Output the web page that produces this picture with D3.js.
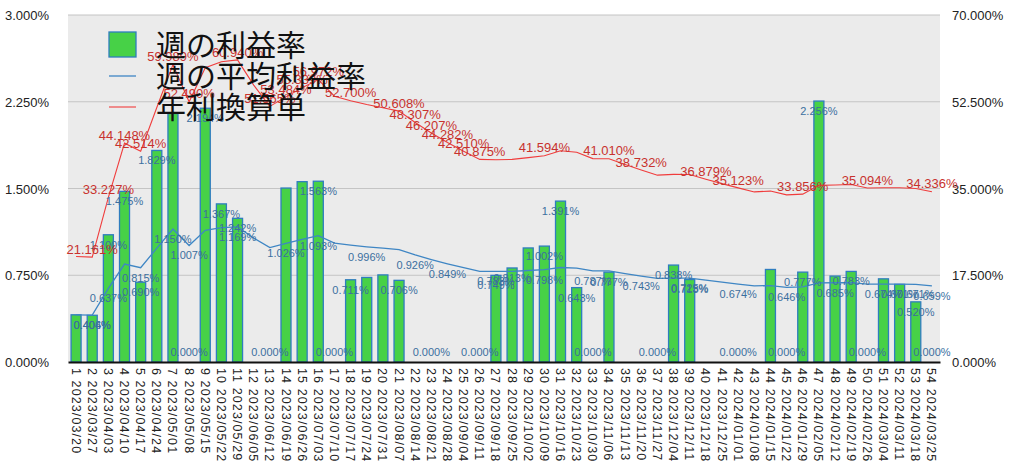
<!DOCTYPE html>
<html><head><meta charset="utf-8">
<script src="https://cdn.jsdelivr.net/npm/d3@7"></script>
<style>
html,body{margin:0;padding:0;background:#fff;}
svg{display:block;}
</style>
</head><body>
<svg id="chart" width="1024" height="474"></svg>
<script>
// ---- data ----
const weekNumbers = d3.range(1, 55);
const weekDates = ["2023/03/20","2023/03/27","2023/04/03","2023/04/10","2023/04/17","2023/04/24","2023/05/01","2023/05/08","2023/05/15","2023/05/22","2023/05/29","2023/06/05","2023/06/12","2023/06/19","2023/06/26","2023/07/03","2023/07/10","2023/07/17","2023/07/24","2023/07/31","2023/08/07","2023/08/14","2023/08/21","2023/08/28","2023/09/04","2023/09/11","2023/09/18","2023/09/25","2023/10/02","2023/10/09","2023/10/16","2023/10/23","2023/10/30","2023/11/06","2023/11/13","2023/11/20","2023/11/27","2023/12/04","2023/12/11","2023/12/18","2023/12/25","2024/01/01","2024/01/08","2024/01/15","2024/01/22","2024/01/29","2024/02/05","2024/02/12","2024/02/19","2024/02/26","2024/03/04","2024/03/11","2024/03/18","2024/03/25"];
// 週の利益率 (%)
const weeklyRate = [0.408,0.404,1.100,1.475,0.690,1.829,2.148,0,2.194,1.367,1.242,0,0,1.504,1.559,1.563,0,0.711,0.731,0.753,0.706,0,0,0,0,0,0.749,0.813,0.986,1.002,1.391,0.643,0,0.777,0,0,0,0.838,0.713,0,0,0,0,0.800,0,0.777,2.256,0.743,0.783,0,0.719,0.671,0.520,0];
// 週の平均利益率 (%)
const avgRate = [0.408,0.406,0.637,0.847,0.815,0.984,1.150,1.007,1.139,1.162,1.169,1.071,0.989,1.026,1.061,1.093,1.028,1.011,0.996,0.984,0.971,0.926,0.886,0.849,0.815,0.784,0.783,0.784,0.791,0.798,0.817,0.812,0.787,0.787,0.764,0.743,0.723,0.726,0.725,0.707,0.690,0.674,0.658,0.661,0.646,0.649,0.684,0.685,0.687,0.673,0.674,0.674,0.671,0.659];
// 年利換算単 (%)
const annualRate = [21.27,21.161,33.227,44.148,42.514,51.33,59.989,52.490,59.37,60.56,60.940,55.86,51.565,53.484,55.339,56.972,53.62,52.700,51.94,51.30,50.608,48.307,46.207,44.282,42.510,40.875,40.81,40.87,41.23,41.594,42.60,42.31,41.03,41.010,39.84,38.732,37.69,37.85,37.83,36.879,35.98,35.123,34.31,34.48,33.71,33.856,35.64,35.71,35.81,35.094,35.14,35.14,34.99,34.336];
const leftTicks = [0, 0.75, 1.5, 2.25, 3.0];
const rightTicks = [0, 17.5, 35, 52.5, 70];
const seriesNames = ["週の利益率", "週の平均利益率", "年利換算単"];
// weeks whose value labels are visible
const barLabelWeeks = [2,3,4,5,6,8,9,10,11,13,16,17,18,21,23,26,27,28,30,31,32,33,34,37,38,39,42,45,46,47,49,50,52,53,54];
const avgLabelWeeks = [2,3,5,7,8,11,14,16,19,22,24,27,30,33,36,39,42,45,48,51,53,54];
const annualLabelWeeks = [2,3,4,5,7,8,11,13,14,15,16,18,21,22,23,24,25,26,30,34,36,40,42,46,50,54];

// ---- layout ----
const L = 68, R = 940, T = 15, B = 362;
const svg = d3.select("#chart");
const x = d3.scaleBand().domain(weekNumbers).range([L, R]).paddingInner(0.38).paddingOuter(0.19);
const yL = d3.scaleLinear().domain([0, 3]).range([B, T]);
const yR = d3.scaleLinear().domain([0, 70]).range([B, T]);
const cx = i => x(weekNumbers[i]) + x.bandwidth() / 2;

const FONT = "'Liberation Sans', Arial, Helvetica, sans-serif";
const GREEN = "#47d147", BARSTROKE = "#2f7dbf", BLUE = "#3f86c4", LBLUE = "#3b6f9f", RED = "#f03c3c", LRED = "#c8322e";

svg.append("rect").attr("x", L).attr("y", T).attr("width", R - L).attr("height", B - T).attr("fill", "#ebebeb");

// grid
svg.append("g").selectAll("line").data(leftTicks.slice(1)).join("line")
  .attr("x1", L).attr("x2", R).attr("y1", d => yL(d)).attr("y2", d => yL(d))
  .attr("stroke", "#c4c4c4").attr("stroke-width", 1);

// axes
const axL = svg.append("g").attr("transform", `translate(${L - 16},0)`)
  .call(d3.axisLeft(yL).tickValues(leftTicks).tickFormat(d => d.toFixed(3) + "%").tickSize(0));
axL.select(".domain").remove();
axL.selectAll("text").attr("font-family", FONT).attr("font-size", 13).attr("fill", "#222").attr("dy", "0.35em");

const axR = svg.append("g").attr("transform", `translate(${R + 12},0)`)
  .call(d3.axisRight(yR).tickValues(rightTicks).tickFormat(d => d.toFixed(3) + "%").tickSize(0));
axR.select(".domain").remove();
axR.selectAll("text").attr("font-family", FONT).attr("font-size", 13).attr("fill", "#222").attr("dy", "0.35em").attr("x", 0);

// bars
svg.append("g").selectAll("rect").data(weeklyRate).join("rect")
  .attr("x", (d, i) => x(weekNumbers[i]))
  .attr("width", x.bandwidth())
  .attr("y", d => yL(d))
  .attr("height", d => B - yL(d))
  .attr("fill", GREEN).attr("stroke", BARSTROKE).attr("stroke-width", 1.3);

// bottom axis
const axB = svg.append("g").attr("transform", `translate(0,${B})`)
  .call(d3.axisBottom(x).tickSize(0).tickFormat((d, i) => d + " " + weekDates[i]));
axB.select(".domain").attr("stroke", "#111").attr("stroke-width", 2.2);
axB.selectAll("text")
  .attr("font-family", FONT).attr("font-size", 12.5).attr("fill", "#222")
  .attr("letter-spacing", "1.1px")
  .attr("text-anchor", "start")
  .attr("transform", "rotate(90)")
  .attr("x", 6).attr("y", 0).attr("dy", "0.36em");

// lines
const avgLine = d3.line().x((d, i) => cx(i)).y(d => yL(d));
svg.append("path").datum(avgRate).attr("d", avgLine).attr("fill", "none").attr("stroke", BLUE).attr("stroke-width", 1.3);
const annLine = d3.line().x((d, i) => cx(i)).y(d => yR(d));
svg.append("path").datum(annualRate).attr("d", annLine).attr("fill", "none").attr("stroke", RED).attr("stroke-width", 1.1);

// value labels
const lab = svg.append("g").attr("font-family", FONT);
lab.selectAll("text.bar").data(barLabelWeeks).join("text").attr("class", "bar")
  .attr("x", w => cx(w - 1))
  .attr("y", w => Math.min(yL(weeklyRate[w - 1]) + 10, B - 10))
  .attr("dy", "0.36em").attr("text-anchor", "middle").attr("font-size", 11).attr("fill", LBLUE)
  .text(w => weeklyRate[w - 1].toFixed(3) + "%");
lab.selectAll("text.avg").data(avgLabelWeeks).join("text").attr("class", "avg")
  .attr("x", w => cx(w - 1))
  .attr("y", w => yL(avgRate[w - 1]) + 10)
  .attr("dy", "0.36em").attr("text-anchor", "middle").attr("font-size", 11).attr("fill", LBLUE)
  .text(w => avgRate[w - 1].toFixed(3) + "%");
lab.selectAll("text.ann").data(annualLabelWeeks).join("text").attr("class", "ann")
  .attr("x", w => cx(w - 1))
  .attr("y", w => yR(annualRate[w - 1]) - 8)
  .attr("dy", "0.36em").attr("text-anchor", "middle").attr("font-size", 13).attr("fill", LRED)
  .text(w => annualRate[w - 1].toFixed(3) + "%");

// legend
const lg = svg.append("g");
lg.append("rect").attr("x", 109).attr("y", 32).attr("width", 27).attr("height", 25)
  .attr("fill", GREEN).attr("stroke", BARSTROKE).attr("stroke-width", 1.3);
lg.append("line").attr("x1", 109).attr("x2", 136).attr("y1", 76).attr("y2", 76).attr("stroke", BLUE).attr("stroke-width", 1.3);
lg.append("line").attr("x1", 109).attr("x2", 136).attr("y1", 107).attr("y2", 107).attr("stroke", RED).attr("stroke-width", 1.1);
lg.selectAll("text").data(seriesNames).join("text")
  .attr("x", 156).attr("y", (d, i) => 45 + i * 31).attr("dy", "0.36em")
  .attr("font-family", "'Noto Sans CJK JP', sans-serif").attr("font-size", 30).attr("fill", "#111")
  .text(d => d);
</script>
</body></html>
